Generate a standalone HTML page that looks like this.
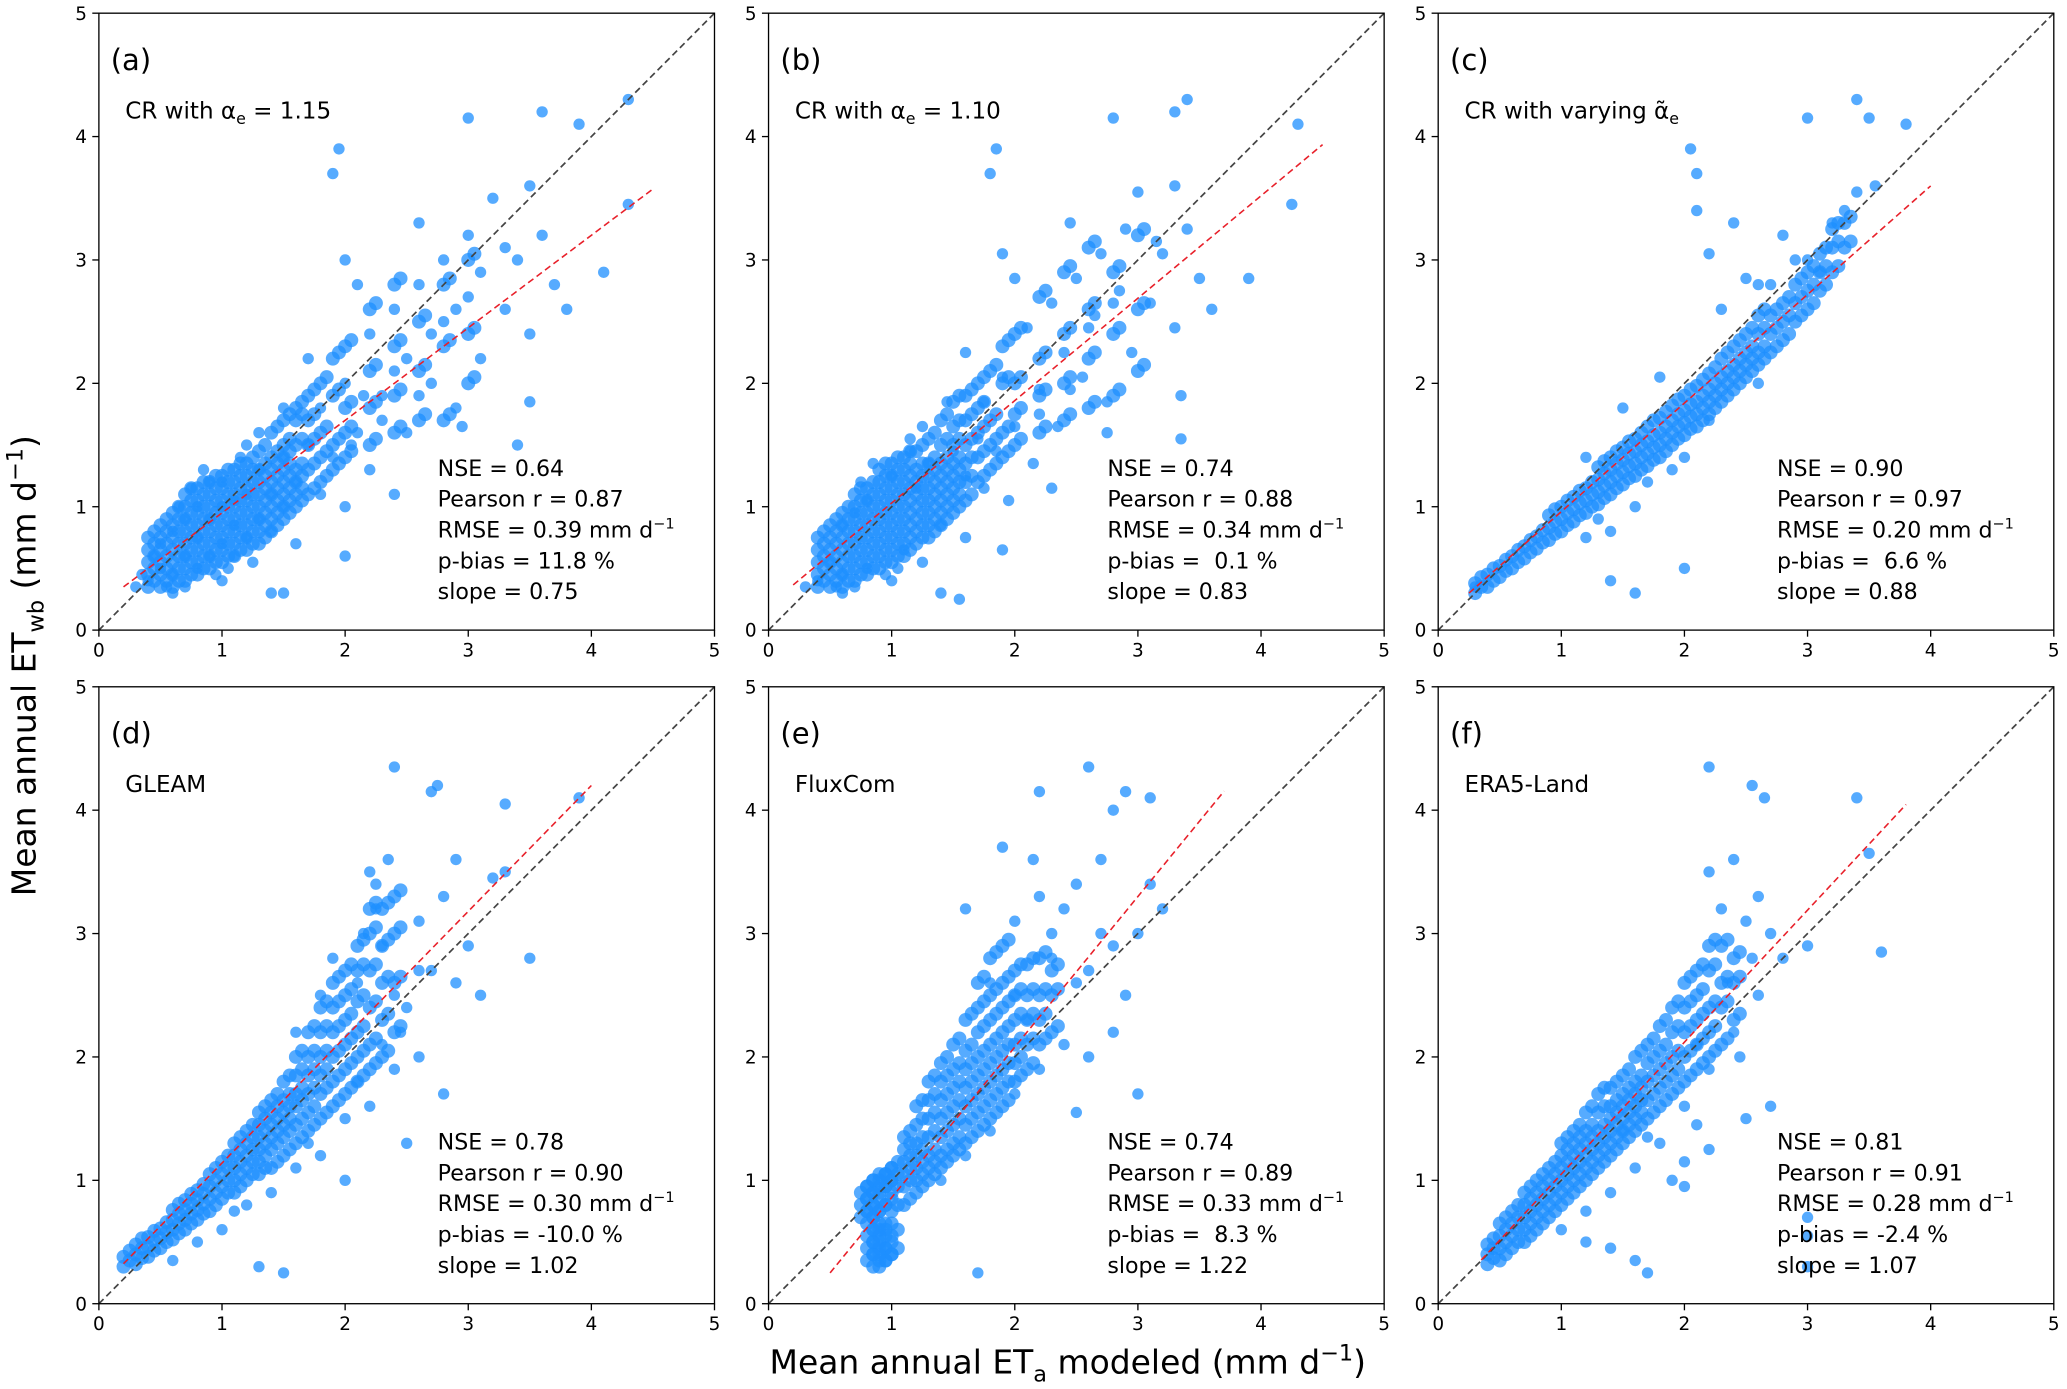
<!DOCTYPE html>
<html><head><meta charset="utf-8"><style>
html,body{margin:0;padding:0;background:#fff;}
svg{display:block;font-family:"DejaVu Sans","Liberation Sans",sans-serif;}
</style></head><body>
<svg id="fig" width="2067" height="1389" viewBox="0 0 1568 1053.7" xmlns="http://www.w3.org/2000/svg"></svg>
<script>
const xTicks=[0,1,2,3,4,5];
const yTicks=[0,1,2,3,4,5];
const panelLabels=["(a)","(b)","(c)","(d)","(e)","(f)"];
const nse=["0.64","0.74","0.90","0.78","0.74","0.81"];
const pearson=["0.87","0.88","0.97","0.90","0.89","0.91"];
const rmse=["0.39","0.34","0.20","0.30","0.33","0.28"];
const pbias=["11.8","0.1","6.6","-10.0","8.3","-2.4"];
const slopes=[0.75,0.83,0.88,1.02,1.22,1.07];
const intercepts=[0.2,0.2,0.08,0.12,-0.36,-0.02];
const fitRange=[[0.2,4.5],[0.2,4.5],[0.25,4.0],[0.2,4.0],[0.5,3.7],[0.35,3.8]];
const ptsA=[[0.4,0.4],[0.5,0.5],[0.5,0.7],[0.6,0.45],[0.6,0.8],[0.7,0.6],[0.7,0.9],[0.8,0.5],[0.8,0.75],[0.8,1.0],[0.9,0.6],[0.9,0.9],[1.0,0.7],[1.0,1.0],[1.0,1.2],[1.1,0.6],[1.1,0.85],[1.2,0.75],[1.2,1.1],[1.3,0.9],[1.3,1.3],[1.4,0.8],[1.4,1.1],[1.5,1.0],[1.5,1.4],[0.45,0.6],[0.55,0.35],[0.65,1.0],[0.75,1.15],[0.85,1.3],[0.95,0.45],[1.05,0.5],[1.15,1.4],[1.25,0.55],[0.35,0.45],[0.6,0.3],[0.7,0.35],[0.9,1.2],[1.1,1.05],[1.6,1.2],[1.6,0.7],[1.7,1.5],[1.8,1.1],[1.8,1.8],[1.9,1.4],[2.0,2.0],[2.0,1.0],[2.1,1.6],[2.2,2.4],[2.2,1.3],[2.3,1.9],[2.4,2.6],[2.5,1.6],[2.5,2.2],[2.6,2.8],[2.7,2.0],[2.8,2.5],[2.8,3.0],[2.9,1.8],[3.0,2.7],[3.0,3.2],[3.1,2.2],[3.2,3.5],[3.3,2.6],[3.4,3.0],[3.5,2.4],[3.6,3.2],[3.7,2.8],[3.9,4.1],[4.1,2.9],[4.3,4.3],[3.0,4.15],[3.6,4.2],[1.95,3.9],[1.9,3.7],[2.0,3.0],[1.5,0.3],[1.4,0.3],[2.4,1.1],[1.7,2.2],[1.5,1.8],[2.1,2.8],[3.4,1.5],[2.6,3.3],[3.8,2.6],[1.3,1.6],[2.0,0.6],[1.2,1.5],[0.3,0.35],[1.0,0.4],[2.05,1.5],[2.15,1.9],[2.3,1.7],[2.4,2.1],[2.6,1.9],[2.7,2.4],[2.9,2.6],[3.1,2.9],[3.3,3.1],[3.5,3.6],[4.3,3.45],[3.5,1.85],[2.95,1.65]];
const coreA=[[0.4,[0.35,0.45,0.55,0.65,0.75]],[0.5,[0.35,0.45,0.55,0.65,0.75,0.85]],[0.6,[0.35,0.45,0.55,0.65,0.75,0.85,0.95]],[0.7,[0.4,0.5,0.6,0.7,0.8,0.9,1.0,1.1]],[0.8,[0.45,0.55,0.65,0.75,0.85,0.95,1.05,1.15]],[0.9,[0.5,0.6,0.7,0.8,0.9,1.0,1.1,1.2]],[1.0,[0.55,0.65,0.75,0.85,0.95,1.05,1.15,1.25]],[1.1,[0.6,0.7,0.8,0.9,1.0,1.1,1.2,1.3]],[1.2,[0.65,0.75,0.85,0.95,1.05,1.15,1.25,1.35]],[1.3,[0.7,0.8,0.9,1.0,1.1,1.2,1.3,1.45]],[1.4,[0.8,0.9,1.0,1.1,1.2,1.3,1.4,1.6]],[1.5,[0.9,1.0,1.1,1.2,1.3,1.4,1.5,1.7]],[1.6,[1.0,1.1,1.2,1.3,1.5,1.7,1.8]],[1.7,[1.1,1.3,1.5,1.7,1.9]],[1.8,[1.2,1.4,1.6,2.0]],[1.9,[1.3,1.5,1.9,2.2]],[2.0,[1.4,1.6,1.8,2.3]],[2.2,[1.5,1.8,2.1,2.6]],[2.4,[1.6,1.9,2.3,2.8]],[2.6,[1.7,2.1,2.5]],[2.8,[1.7,2.3,2.8]],[3.0,[2.0,2.4,3.0]]];
const ptsB=[[0.4,0.4],[0.5,0.55],[0.6,0.45],[0.6,0.85],[0.7,0.95],[0.8,0.5],[0.8,1.05],[1.0,1.25],[1.1,0.65],[1.2,1.15],[1.3,1.35],[1.4,0.85],[1.5,1.45],[0.55,0.35],[0.75,1.2],[0.85,1.35],[0.95,0.45],[1.05,0.5],[1.15,1.45],[1.25,0.55],[0.6,0.3],[0.7,0.35],[1.6,1.25],[1.6,0.75],[1.7,1.55],[1.75,1.15],[1.75,1.85],[1.85,1.45],[1.9,2.05],[1.95,1.05],[2.0,1.65],[2.1,2.45],[2.15,1.35],[2.2,1.95],[2.3,2.65],[2.35,1.65],[2.4,2.25],[2.5,2.85],[2.55,2.05],[2.65,2.55],[2.7,3.05],[2.75,1.85],[2.85,2.75],[2.9,3.25],[2.95,2.25],[3.0,3.55],[3.1,2.65],[3.2,3.05],[3.3,2.45],[3.4,3.25],[3.5,2.85],[4.3,4.1],[3.9,2.85],[3.4,4.3],[2.8,4.15],[3.3,4.2],[1.85,3.9],[1.8,3.7],[1.9,3.05],[1.4,0.3],[1.55,0.25],[2.3,1.15],[1.6,2.25],[1.45,1.85],[2.0,2.85],[3.35,1.55],[2.45,3.3],[3.6,2.6],[1.25,1.65],[1.9,0.65],[1.15,1.55],[0.3,0.35],[1.0,0.4],[2.2,1.75],[2.45,1.95],[2.6,2.45],[2.8,2.65],[3.15,3.15],[3.3,3.6],[4.25,3.45],[3.35,1.9],[2.75,1.6]];
const coreB=[[0.4,[0.35,0.45,0.55,0.65,0.75]],[0.5,[0.35,0.45,0.55,0.65,0.75,0.85]],[0.6,[0.35,0.45,0.55,0.65,0.75,0.85,0.95]],[0.7,[0.4,0.5,0.6,0.7,0.8,0.9,1.0,1.1]],[0.8,[0.45,0.55,0.65,0.75,0.85,0.95,1.05,1.15]],[0.9,[0.5,0.6,0.7,0.8,0.9,1.0,1.1,1.2,1.3]],[1.0,[0.55,0.65,0.75,0.85,0.95,1.05,1.15,1.25,1.35]],[1.1,[0.6,0.7,0.8,0.9,1.0,1.1,1.2,1.3,1.4]],[1.2,[0.7,0.8,0.9,1.0,1.1,1.2,1.3,1.45]],[1.3,[0.75,0.85,0.95,1.05,1.15,1.25,1.35,1.55]],[1.4,[0.85,0.95,1.05,1.15,1.25,1.35,1.5,1.7]],[1.5,[0.95,1.05,1.15,1.25,1.35,1.5,1.65,1.85]],[1.6,[1.05,1.2,1.35,1.5,1.7,1.9]],[1.7,[1.2,1.4,1.6,1.8,2.0]],[1.8,[1.3,1.5,1.7,2.1]],[1.9,[1.4,1.6,2.0,2.3]],[2.0,[1.5,1.75,2.0,2.4]],[2.2,[1.6,1.9,2.2,2.7]],[2.4,[1.7,2.0,2.4,2.9]],[2.6,[1.8,2.2,2.6,3.1]],[2.8,[1.9,2.4,2.9]],[3.0,[2.1,2.6,3.2]]];
const ptsC=[[0.3,0.35],[1.4,0.4],[1.6,0.3],[2.0,0.5],[1.3,0.9],[2.1,3.4],[2.1,3.7],[2.05,3.9],[2.2,3.05],[3.4,4.3],[3.5,4.15],[3.8,4.1],[3.0,4.15],[3.55,3.6],[1.4,0.8],[1.2,0.75],[1.6,1.0],[2.6,2.0],[2.4,3.3],[2.7,2.8],[2.8,3.2],[3.0,3.0],[3.2,3.3],[3.4,3.55],[3.3,3.4],[1.8,2.05],[1.5,1.8],[2.5,2.85],[2.3,2.6],[1.2,1.4],[1.7,1.2],[2.0,1.4],[2.2,1.7],[1.9,1.3],[2.6,2.8],[3.1,2.9],[2.9,3.0]];
const coreC=[[0.3,[0.3,0.38]],[0.4,[0.35,0.45]],[0.5,[0.43,0.52]],[0.6,[0.5,0.6]],[0.7,[0.58,0.68]],[0.8,[0.66,0.76]],[0.9,[0.73,0.83,0.93]],[1.0,[0.8,0.9,1.0]],[1.1,[0.88,0.98,1.08]],[1.2,[0.95,1.05,1.15]],[1.3,[1.02,1.12,1.22,1.32]],[1.4,[1.1,1.2,1.3,1.4]],[1.5,[1.18,1.28,1.38,1.48]],[1.6,[1.25,1.35,1.45,1.55]],[1.7,[1.33,1.43,1.53,1.65]],[1.8,[1.4,1.5,1.6,1.72]],[1.9,[1.5,1.6,1.7,1.82]],[2.0,[1.58,1.68,1.78,1.9]],[2.1,[1.65,1.75,1.85,1.98]],[2.2,[1.75,1.85,1.95,2.08]],[2.3,[1.85,1.95,2.05,2.2]],[2.4,[1.95,2.05,2.15,2.3]],[2.5,[2.05,2.15,2.25,2.4]],[2.6,[2.15,2.25,2.4,2.55]],[2.7,[2.25,2.4,2.55]],[2.8,[2.35,2.5,2.65]],[2.9,[2.5,2.65,2.8]],[3.0,[2.6,2.75,2.9]],[3.1,[2.75,2.9,3.05]],[3.2,[2.9,3.1,3.25]],[3.3,[3.1,3.3]]];
const ptsD=[[2.4,4.35],[2.75,4.2],[2.7,4.15],[3.3,4.05],[3.9,4.1],[2.2,3.5],[2.35,3.6],[2.25,3.4],[2.8,3.3],[2.9,3.6],[3.3,3.5],[3.5,2.8],[3.1,2.5],[3.0,2.9],[2.9,2.6],[2.7,2.7],[2.6,3.1],[2.5,2.4],[2.8,1.7],[2.6,2.0],[2.4,1.9],[2.2,1.6],[2.0,1.0],[2.5,1.3],[1.5,0.25],[1.3,0.3],[1.0,0.6],[1.4,0.9],[1.6,1.1],[1.8,1.2],[2.0,1.5],[1.9,2.8],[1.8,2.5],[1.6,2.2],[2.1,2.6],[2.3,2.9],[1.2,0.8],[0.8,0.5],[0.6,0.35],[1.1,0.75],[1.7,1.3],[2.1,1.8],[2.3,2.1],[2.4,2.5],[2.6,2.7],[2.45,2.2],[3.2,3.45],[2.25,3.2],[2.15,3.0]];
const coreD=[[0.2,[0.3,0.38]],[0.3,[0.32,0.4,0.48]],[0.4,[0.38,0.46,0.54]],[0.5,[0.45,0.53,0.61]],[0.6,[0.52,0.6,0.68,0.76]],[0.7,[0.6,0.68,0.76,0.84]],[0.8,[0.68,0.76,0.84,0.92]],[0.9,[0.75,0.85,0.95,1.05]],[1.0,[0.85,0.95,1.05,1.15]],[1.1,[0.9,1.0,1.1,1.2,1.3]],[1.2,[1.0,1.1,1.2,1.3,1.4]],[1.3,[1.05,1.15,1.25,1.35,1.45,1.55]],[1.4,[1.1,1.25,1.35,1.45,1.55,1.65]],[1.5,[1.2,1.35,1.45,1.55,1.65,1.8]],[1.6,[1.3,1.45,1.6,1.7,1.85,2.0]],[1.7,[1.4,1.55,1.7,1.85,2.0,2.2]],[1.8,[1.5,1.7,1.85,2.0,2.2,2.4]],[1.9,[1.6,1.8,2.0,2.2,2.4,2.6]],[2.0,[1.7,1.9,2.1,2.3,2.5,2.7]],[2.1,[1.8,2.0,2.2,2.45,2.7,2.9]],[2.2,[1.9,2.1,2.4,2.7,3.0,3.2]],[2.3,[2.0,2.3,2.6,2.9,3.2]],[2.4,[2.2,2.6,3.0,3.3]]];
const ptsE=[[1.7,0.25],[2.6,4.35],[2.2,4.15],[2.9,4.15],[3.1,4.1],[2.8,4.0],[1.9,3.7],[1.6,3.2],[2.15,3.6],[2.7,3.6],[2.5,3.4],[2.3,3.0],[2.6,2.7],[2.8,2.9],[2.9,2.5],[3.0,3.0],[3.1,3.4],[3.2,3.2],[3.0,1.7],[2.5,1.55],[2.8,2.2],[2.6,2.0],[2.4,2.1],[2.2,1.9],[2.0,1.7],[1.8,1.4],[1.6,1.2],[1.4,1.0],[2.4,3.2],[2.2,3.3],[2.0,3.1],[1.8,2.6],[2.1,2.3],[2.3,2.8],[2.7,3.0],[2.5,2.6],[2.0,2.5]];
const coreE=[[0.75,[0.7,0.8,0.9]],[0.8,[0.35,0.45,0.55,0.65,0.75,0.85,0.95]],[0.85,[0.3,0.4,0.5,0.6,0.7,0.8,0.9,1.0]],[0.9,[0.3,0.4,0.5,0.6,0.75,0.9,1.0]],[0.95,[0.35,0.45,0.6,0.8,0.95,1.05]],[1.0,[0.4,0.55,0.75,0.9,1.0,1.1]],[1.1,[0.8,0.95,1.05,1.15,1.25,1.35]],[1.2,[0.9,1.0,1.1,1.2,1.3,1.45,1.6]],[1.3,[1.0,1.1,1.2,1.35,1.5,1.65,1.8]],[1.4,[1.1,1.2,1.35,1.5,1.65,1.8,1.95]],[1.5,[1.2,1.3,1.45,1.6,1.75,1.9,2.1]],[1.6,[1.3,1.45,1.6,1.75,1.9,2.05,2.3]],[1.7,[1.4,1.55,1.7,1.85,2.0,2.2,2.4,2.6]],[1.8,[1.5,1.65,1.8,1.95,2.1,2.3,2.5,2.8]],[1.9,[1.6,1.75,1.9,2.05,2.2,2.4,2.6,2.9]],[2.0,[1.8,1.95,2.1,2.3,2.5,2.7]],[2.1,[1.9,2.1,2.3,2.5,2.75]],[2.2,[2.1,2.3,2.5,2.8]],[2.3,[2.2,2.5,2.7]]];
const ptsF=[[2.2,4.35],[2.55,4.2],[2.65,4.1],[3.4,4.1],[3.5,3.65],[3.6,2.85],[3.0,2.9],[2.8,2.8],[2.2,3.5],[2.4,3.6],[2.3,3.2],[2.5,3.1],[2.6,3.3],[2.7,3.0],[2.6,2.5],[2.4,2.2],[2.2,1.9],[2.0,1.6],[1.8,1.3],[1.6,1.1],[1.4,0.9],[1.2,0.75],[1.0,0.6],[1.4,0.45],[1.6,0.35],[1.7,0.25],[1.2,0.5],[2.0,1.15],[2.2,1.25],[2.5,1.5],[2.7,1.6],[3.0,0.7],[3.0,0.55],[3.0,0.3],[1.9,1.0],[2.1,2.1],[2.45,2.0],[2.55,2.8],[2.35,2.6],[1.5,1.4],[1.7,1.35],[2.0,0.95],[2.1,1.45]];
const coreF=[[0.4,[0.32,0.4,0.48]],[0.5,[0.35,0.45,0.55,0.65]],[0.6,[0.45,0.55,0.65,0.75]],[0.7,[0.5,0.6,0.7,0.8,0.9]],[0.8,[0.6,0.7,0.8,0.9,1.0]],[0.9,[0.7,0.8,0.9,1.0,1.1]],[1.0,[0.8,0.9,1.0,1.1,1.2,1.3]],[1.1,[0.9,1.0,1.1,1.2,1.3,1.4]],[1.2,[1.0,1.1,1.2,1.3,1.4,1.55]],[1.3,[1.1,1.2,1.3,1.4,1.55,1.7]],[1.4,[1.2,1.3,1.4,1.5,1.6,1.75]],[1.5,[1.3,1.4,1.5,1.6,1.7,1.85]],[1.6,[1.4,1.5,1.6,1.7,1.8,2.0]],[1.7,[1.5,1.65,1.8,1.95,2.1]],[1.8,[1.6,1.75,1.9,2.05,2.25]],[1.9,[1.7,1.85,2.0,2.2,2.4]],[2.0,[1.8,2.0,2.2,2.4,2.6]],[2.1,[1.9,2.1,2.3,2.5,2.7]],[2.2,[2.0,2.2,2.4,2.7,2.9]],[2.3,[2.1,2.4,2.6,2.9]],[2.4,[2.3,2.6,2.8]]];
const allPts=[ptsA,ptsB,ptsC,ptsD,ptsE,ptsF];
const allCore=[coreA,coreB,coreC,coreD,coreE,coreF];
const subtitles=["a","b","c","GLEAM","FluxCom","ERA5-Land"];

const NS="http://www.w3.org/2000/svg";
const svg=document.getElementById('fig');
const lefts=[75,583,1091], tops=[10,521], W=467, H=468;
function mk(tag,attrs,parent){const e=document.createElementNS(NS,tag);for(const k in attrs)e.setAttribute(k,attrs[k]);(parent||svg).appendChild(e);return e;}
for(let p=0;p<6;p++){
  const L=lefts[p%3], T=tops[Math.floor(p/3)];
  const sx=v=>L+v/5*W, sy=v=>T+H-v/5*H;
  const g=mk('g',{});
  
  
  const drawPt=(x,y,r)=>{
    const c=mk('circle',{cx:sx(x),cy:sy(y),r:r,fill:'#1e8fff','fill-opacity':0.75},g);
    
    
  };
  allPts[p].forEach(pt=>drawPt(pt[0],pt[1],4.3));
  allCore[p].forEach(col=>col[1].forEach(y=>{drawPt(col[0],y,5.3);drawPt(col[0]+0.05,y+0.05,5.3);}));
  const one=mk('line',{x1:sx(0),y1:sy(0),x2:sx(5),y2:sy(5),stroke:'#444','stroke-width':1.3,'stroke-dasharray':'5,3'},g);
  
  
  const fr=fitRange[p];
  const fit=mk('line',{x1:sx(fr[0]),y1:sy(slopes[p]*fr[0]+intercepts[p]),x2:sx(fr[1]),y2:sy(slopes[p]*fr[1]+intercepts[p]),stroke:'#e8202a','stroke-width':1.2,'stroke-dasharray':'5,3'},g);
  
  
  const fr2=mk('rect',{x:L,y:T,width:W,height:H,fill:'none',stroke:'#000','stroke-width':1},g);
  
  
  xTicks.forEach(v=>{
    mk('line',{x1:sx(v),y1:T+H,x2:sx(v),y2:T+H+5,stroke:'#000'},g);
    const t=mk('text',{x:sx(v),y:T+H+20,'font-size':14,'text-anchor':'middle'},g);t.textContent=v;
    
    
  });
  yTicks.forEach(v=>{
    mk('line',{x1:L-5,y1:sy(v),x2:L,y2:sy(v),stroke:'#000'},g);
    const t=mk('text',{x:L-9,y:sy(v)+5,'font-size':14,'text-anchor':'end'},g);t.textContent=v;
    
    
  });
  const lb=mk('text',{x:L+9,y:T+43,'font-size':22},g);lb.textContent=panelLabels[p];
  
  
  const st=mk('text',{x:L+20,y:T+80,'font-size':17.5},g);
  
  
  if(p<2){st.innerHTML='CR with α<tspan font-size="12" dy="4">e</tspan><tspan dy="-4"> = '+(p==0?'1.15':'1.10')+'</tspan>';}
  else if(p==2){st.innerHTML='CR with varying α̃<tspan font-size="12" dy="4">e</tspan>';}
  else st.textContent=subtitles[p];
  const sx0=L+257, sy0=T+351;
  const lines=['NSE = '+nse[p],'Pearson r = '+pearson[p],'RMSE = '+rmse[p]+' mm d<tspan font-size="11" dy="-7">−1</tspan>','p-bias = '+(pbias[p].length<4&&pbias[p][0]!='-'?'\u00a0':'')+pbias[p]+' %','slope = '+slopes[p].toFixed(2)];
  lines.forEach((s,i)=>{const t=mk('text',{x:sx0,y:sy0+i*23.4,'font-size':16.8},g);t.innerHTML=s;
    
    });
}
const yt=mk('text',{x:0,y:0,'font-size':25,'text-anchor':'middle',transform:'translate(27,505) rotate(-90)'});
yt.innerHTML='Mean annual ET<tspan font-size="17" dy="6">wb</tspan><tspan dy="-6"> (mm d</tspan><tspan font-size="17" dy="-10">−1</tspan><tspan dy="10">)</tspan>';


const xt=mk('text',{x:810,y:1042,'font-size':25,'text-anchor':'middle'});
xt.innerHTML='Mean annual ET<tspan font-size="17" dy="6">a</tspan><tspan dy="-6"> modeled (mm d</tspan><tspan font-size="17" dy="-10">−1</tspan><tspan dy="10">)</tspan>';


</script>
</body></html>
